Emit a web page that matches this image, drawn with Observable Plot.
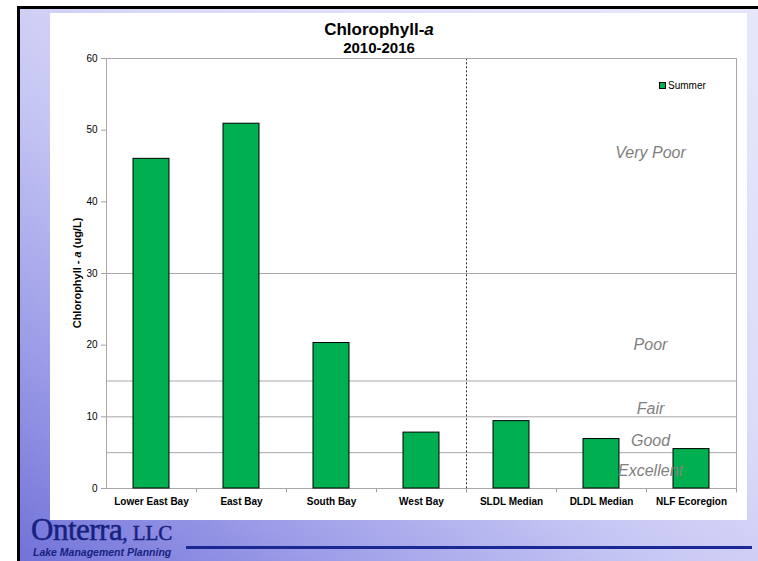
<!DOCTYPE html>
<html>
<head>
<meta charset="utf-8">
<script src="https://cdn.jsdelivr.net/npm/d3@7"></script>
<script src="https://cdn.jsdelivr.net/npm/@observablehq/plot@0.6"></script>
<style>
  html, body { margin: 0; padding: 0; background: #ffffff; }
  #page { position: relative; width: 758px; height: 561px; overflow: hidden; font-family: "Liberation Sans", Arial, sans-serif; }
  #frame { position: absolute; left: 17px; top: 6px; width: 738px; height: 552px;
    border-left: 3px solid #000; border-top: 3px solid #000;
    background: linear-gradient(to top right, #7272d8 0%, #9c9ce8 20%, #c6c6f4 42%, #dcdcf9 62%, #e6e6fb 100%); }
  #panel { position: absolute; left: 50px; top: 13px; width: 697px; height: 507px; background: #fff; }
  #chart { position: absolute; left: 50px; top: 13px; }
  .title { position: absolute; left: 279px; width: 200px; text-align: center; font-weight: bold; color: #000; white-space: nowrap; }
  #legend { position: absolute; left: 659px; top: 80px; font-size: 10px; line-height: 12px; color: #000; white-space: nowrap; }
  #legend .sw { display: inline-block; width: 5px; height: 5px; background: #00b050; border: 1px solid #000; margin-right: 2px; vertical-align: 0px; }
  #logo { position: absolute; left: 31px; top: 514px; font-family: "Liberation Serif", "DejaVu Serif", serif; font-size: 31px; line-height: 31px; font-weight: normal; -webkit-text-stroke: 0.5px #17217f; color: #17217f; white-space: nowrap; letter-spacing: -0.5px; }
  #logo .llc { font-size: 21px; letter-spacing: 0; }
  #tag { position: absolute; left: 33px; top: 547px; font-size: 10.5px; line-height: 10px; font-weight: bold; font-style: italic; color: #17217f; white-space: nowrap; }
  #bar { position: absolute; left: 186px; top: 546px; width: 566px; height: 3px; background: #1a2894; }
</style>
</head>
<body>
<div id="page">
  <div id="frame"></div>
  <div id="panel"></div>
  <div id="chart"></div>
  <div class="title" style="top:21px;font-size:17px;line-height:18px;">Chlorophyll-<i>a</i></div>
  <div class="title" style="top:40px;font-size:15px;line-height:16px;">2010-2016</div>
  <div id="legend"><span class="sw"></span>Summer</div>
  <div id="logo">Onterra<span class="llc">, LLC</span></div>
  <div id="tag">Lake Management Planning</div>
  <div id="bar"></div>
</div>
<script>
// ---- data ----
const sites = ["Lower East Bay", "East Bay", "South Bay", "West Bay", "SLDL Median", "DLDL Median", "NLF Ecoregion"];
const summer = [46.0, 50.9, 20.3, 7.8, 9.4, 6.9, 5.5];
const yTicks = [0, 10, 20, 30, 40, 50, 60];
const ratingBreaks = [5, 10, 15, 30];
const ratingLabels = ["Very Poor", "Poor", "Fair", "Good", "Excellent"];
const ratingLabelY = [46.8, 20.1, 11.1, 6.7, 2.5];
const dividerBefore = ["SLDL Median"];

const data = sites.map((s, i) => ({site: s, value: summer[i]}));
const ratings = ratingLabels.map((l, i) => ({label: l, y: ratingLabelY[i]}));

const step = 90;

const plot = Plot.plot({
  width: 697,
  height: 507,
  marginLeft: 56,
  marginRight: 11,
  marginTop: 45,
  marginBottom: 32,
  style: {background: "white", fontFamily: "'Liberation Sans', Arial, sans-serif", color: "black", overflow: "visible"},
  x: {type: "band", domain: sites, paddingInner: 0.6, paddingOuter: 0.3, label: null},
  y: {domain: [0, 60], label: null},
  marks: [
    Plot.ruleY(ratingBreaks, {stroke: "#a8a8a8", strokeWidth: 1}),
    Plot.ruleX(dividerBefore, {x: d => d, y1: -0.6, y2: 60, dx: -step / 2, stroke: "#333", strokeDasharray: "2,2", strokeWidth: 1}),
    Plot.ruleX(sites, {x: d => d, y1: 0, y2: -0.6, dx: step / 2, stroke: "#a0a0a0"}),
    Plot.frame({stroke: "#a8a8a8", strokeWidth: 1}),
    Plot.barY(data, {x: "site", y: "value", fill: "#00b050", stroke: "#000", strokeWidth: 1, inset: 0}),
    Plot.text(ratings, {x: () => "NLF Ecoregion", y: "y", text: "label", dx: -41, fontSize: 16, fontStyle: "italic", fill: "#808080", textAnchor: "middle"}),
    Plot.axisY({ticks: yTicks, tickSize: 5, tickPadding: 4, fontSize: 10, stroke: "#a0a0a0", fill: "#000", label: null}),
    Plot.axisX({tickSize: 0, tickPadding: 9, fontSize: 10, fontWeight: "bold", fill: "#000", label: null})
  ]
});

document.getElementById("chart").appendChild(plot);

// rotated y-axis title
const svg = d3.select(plot);
const t = svg.append("text")
  .attr("transform", "translate(27,260) rotate(-90)")
  .attr("text-anchor", "middle")
  .attr("dy", "0.35em")
  .attr("font-size", 11)
  .attr("font-weight", "bold")
  .attr("fill", "#000");
t.append("tspan").text("Chlorophyll - ");
t.append("tspan").attr("font-style", "italic").text("a");
t.append("tspan").text(" (ug/L)");
</script>
</body>
</html>
